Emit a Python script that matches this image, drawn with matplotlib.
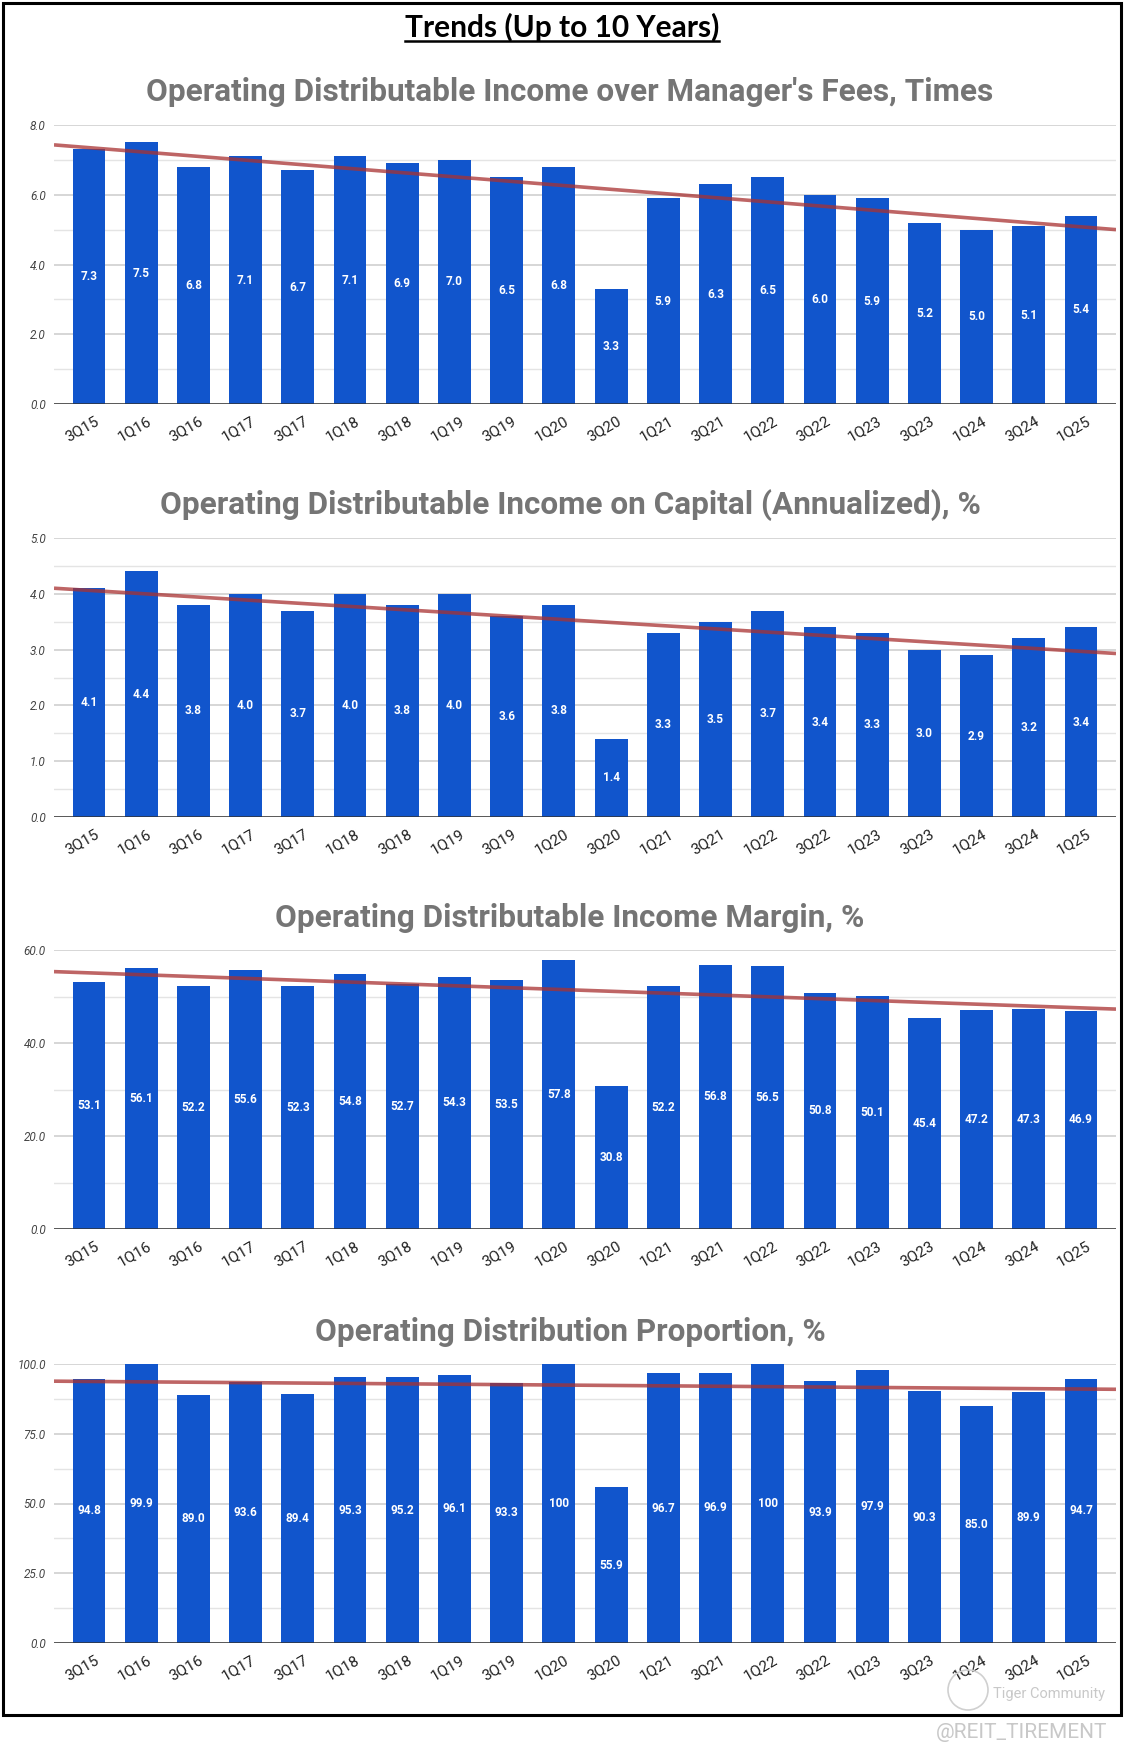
import numpy as np
import matplotlib.pyplot as plt
import matplotlib.transforms as mtransforms
from matplotlib.lines import Line2D
from matplotlib.patches import Rectangle, Circle

quarters = ['3Q15', '1Q16', '3Q16', '1Q17', '3Q17', '1Q18', '3Q18', '1Q19', '3Q19', '1Q20',
            '3Q20', '1Q21', '3Q21', '1Q22', '3Q22', '1Q23', '3Q23', '1Q24', '3Q24', '1Q25']

fees_times = [7.3, 7.5, 6.8, 7.1, 6.7, 7.1, 6.9, 7.0, 6.5, 6.8,
              3.3, 5.9, 6.3, 6.5, 6.0, 5.9, 5.2, 5.0, 5.1, 5.4]
capital_pct = [4.1, 4.4, 3.8, 4.0, 3.7, 4.0, 3.8, 4.0, 3.6, 3.8,
               1.4, 3.3, 3.5, 3.7, 3.4, 3.3, 3.0, 2.9, 3.2, 3.4]
margin_pct = [53.1, 56.1, 52.2, 55.6, 52.3, 54.8, 52.7, 54.3, 53.5, 57.8,
              30.8, 52.2, 56.8, 56.5, 50.8, 50.1, 45.4, 47.2, 47.3, 46.9]
proportion_pct = [94.8, 99.9, 89.0, 93.6, 89.4, 95.3, 95.2, 96.1, 93.3, 100.0,
                  55.9, 96.7, 96.9, 100.0, 93.9, 97.9, 90.3, 85.0, 89.9, 94.7]

titles = ["Operating Distributable Income over Manager's Fees, Times",
          "Operating Distributable Income on Capital (Annualized), %",
          "Operating Distributable Income Margin, %",
          "Operating Distribution Proportion, %"]
major_ticks = [[0, 2, 4, 6, 8], [0, 1, 2, 3, 4, 5], [0, 20, 40, 60], [0, 25, 50, 75, 100]]
minor_ticks = [[1, 3, 5, 7], [0.5, 1.5, 2.5, 3.5, 4.5], [10, 30, 50], [12.5, 37.5, 62.5, 87.5]]
series = [fees_times, capital_pct, margin_pct, proportion_pct]

BLUE = '#1155cc'
W, H = 1124, 1755
fig = plt.figure(figsize=(W / 100, H / 100), dpi=100)
fig.patch.set_facecolor('white')

# axes rows: (top px, bottom px), title centre px
rows = [(125, 404, 92), (538, 817, 505), (950, 1229, 918), (1364, 1643, 1332)]
left, right = 54 / W, 1116 / W


def fmt(v):
    return f'{v:.0f}' if v >= 100 else f'{v:.1f}'


x = np.arange(len(quarters))
for i, (top, bot, ty) in enumerate(rows):
    ax = fig.add_axes([left, 1 - bot / H, right - left, (bot - top) / H])
    vals = np.array(series[i])
    ax.bar(x, vals, width=0.63, color=BLUE, zorder=2)
    for xi, v in zip(x, vals):
        ax.text(xi, v / 2, fmt(v), ha='center', va='center', color='white',
                fontsize=8.5, fontweight='bold', family='Roboto', zorder=4)

    xlim = (-0.67, len(quarters) - 0.33)
    ax.set_xlim(xlim)
    ax.set_ylim(0, major_ticks[i][-1])

    # linear trendline
    k, b = np.polyfit(x, vals, 1)
    xt = np.array(xlim)
    ax.plot(xt, k * xt + b, color='#a83232', alpha=0.75, lw=2.6, zorder=3,
            solid_capstyle='butt')

    ax.set_yticks(major_ticks[i])
    ax.set_yticks(minor_ticks[i], minor=True)
    ax.set_yticklabels([f'{t:.1f}' for t in major_ticks[i]], fontsize=8.5,
                       family='Roboto', style='italic', color='#444444')
    ax.grid(axis='y', which='major', color='#cccccc', lw=1.1, zorder=0)
    ax.grid(axis='y', which='minor', color='#e4e4e4', lw=1.0, zorder=0)
    ax.axhline(0, color='#333333', lw=1.8, zorder=5)
    for s in ax.spines.values():
        s.set_visible(False)
    ax.tick_params(axis='both', which='both', length=0)
    ax.tick_params(axis='y', pad=6)

    # category labels, rotated and nudged left like the original
    ax.set_xticks(x)
    ax.set_xticklabels([])
    lab_tr = ax.get_xaxis_transform() + mtransforms.ScaledTranslation(
        -7 / 100, -10 / 100, fig.dpi_scale_trans)
    for xi, q in zip(x, quarters):
        ax.text(xi, 0, q, transform=lab_tr, rotation=30, ha='center', va='top',
                fontsize=11, family='Roboto', color='#222222')

    fig.text(570 / W, 1 - ty / H, titles[i], ha='center', va='center',
             fontsize=22.7, fontweight='bold', family='Roboto', color='#757575')

# main heading with underline
head = fig.text(0.5, 1 - 27 / H, 'Trends (Up to 10 Years)', ha='center', va='center',
                fontsize=21.5, fontweight='bold', family='Lato', color='black')
fig.canvas.draw()
bb = head.get_window_extent()
fig.add_artist(Line2D([bb.x0 / W, bb.x1 / W], [1 - 41 / H, 1 - 41 / H],
                      transform=fig.transFigure, color='black', lw=1.8))

# outer frame
fig.add_artist(Rectangle((3 / W, 1 - 1715 / H), 1118 / W, 1712 / H, transform=fig.transFigure,
                         fill=False, ec='black', lw=2.2))

# watermarks
fig.add_artist(Circle((968, H - 1690), 20, transform=mtransforms.IdentityTransform(),
                      fill=False, ec='#d0d0d0', lw=1.2))
fig.text(1105 / W, 1 - 1694 / H, 'Tiger Community', ha='right', va='center',
         fontsize=10.5, family='Roboto', color='#c8c8c8')
fig.text(1107 / W, 1 - 1732 / H, '@REIT_TIREMENT', ha='right', va='center',
         fontsize=15, family='Roboto', color='#c8c8c8')

fig.savefig('out.png', dpi=100, facecolor='white')
